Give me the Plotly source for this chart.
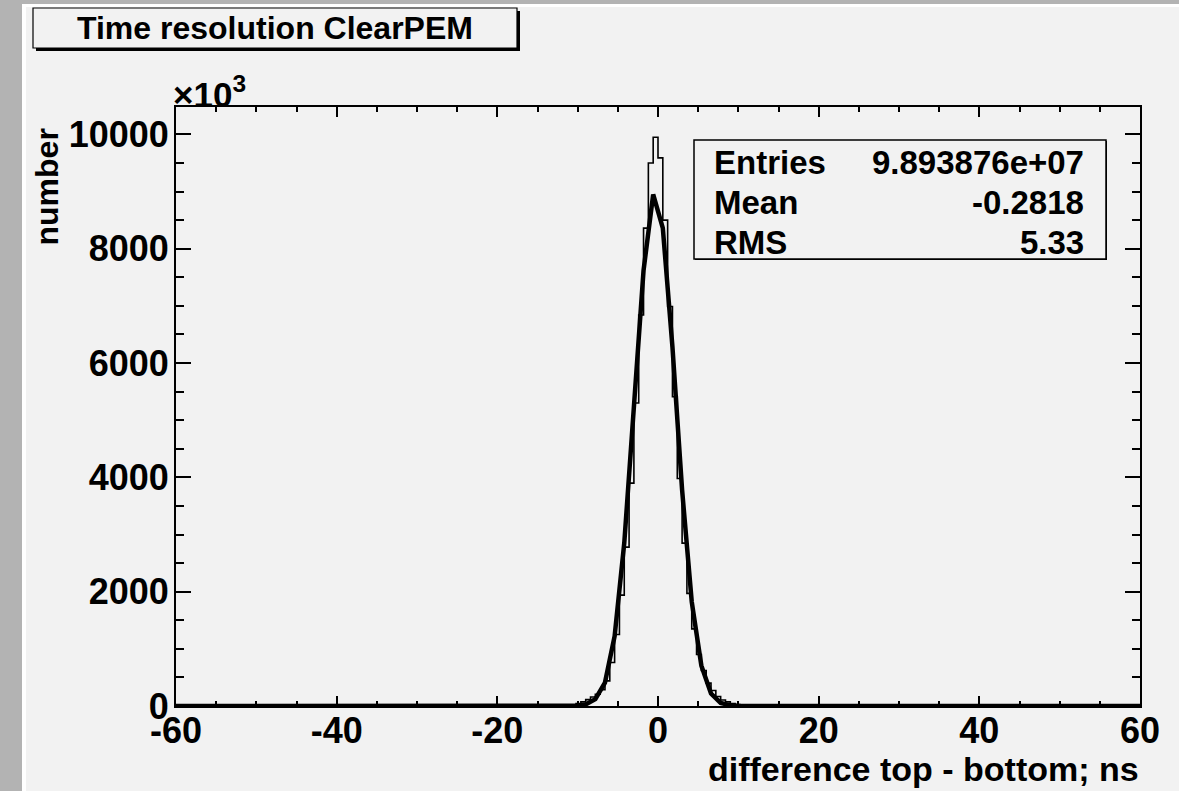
import plotly.graph_objects as go

# ---------------- data (y in units of 10^3) ----------------
bin_low = -12.0          # left edge of the first listed bin
bin_width = 0.6          # 200 bins over [-60, 60]
hist_counts = [5, 10, 22, 42, 72, 112, 158, 205, 285, 440,
               760, 1250, 1940, 2780, 3900, 5300, 6840, 8360, 9500, 9950,
               9590, 8500, 6990, 5410, 3980, 2850, 1970, 1350, 900, 620,
               400, 270, 165, 105, 72, 45, 25, 12, 6, 3]

fit_x = [-60, -10.2, -9.0, -7.8, -6.6, -5.4, -4.2, -3.0, -1.8, -0.6,
         0.6, 1.8, 3.0, 4.2, 5.4, 6.6, 7.8, 9.0, 10.2, 60]
fit_y = [0, 5, 28, 120, 410, 1220, 2850, 5200, 7620, 8950,
         8360, 6280, 3780, 1824, 705, 218, 54, 11, 2, 0]

x_range = [-60, 60]
y_max = 10480
x_ticks = [-60, -40, -20, 0, 20, 40, 60]
x_tick_labels = ["-60", "-40", "-20", "0", "20", "40", "60"]
y_ticks = [0, 2000, 4000, 6000, 8000, 10000]
y_tick_labels = ["0", "2000", "4000", "6000", "8000", "10000"]

title_text = "Time resolution ClearPEM"
x_title = "difference top - bottom; ns"
y_title = "number"
stat_names = ["Entries", "Mean", "RMS"]
stat_values = ["9.893876e+07", "-0.2818", "5.33"]

# ---------------- figure geometry ----------------
W, H = 1179, 791
L, R, T, B = 176, 1140, 107, 706   # plot area in pixels


def px(x):
    return (x - L) / (R - L)


def py(y):
    return (B - y) / (B - T)


FONT = "Liberation Sans"
BG = "#f2f2f2"

# histogram step line
hx = [x_range[0]]
hy = [0]
for i, c in enumerate(hist_counts):
    hx.append(bin_low + i * bin_width)
    hy.append(c)
hx.append(bin_low + len(hist_counts) * bin_width)
hy.append(0)
hx.append(x_range[1])
hy.append(0)

fig = go.Figure()
fig.add_trace(go.Scatter(x=hx, y=hy, mode="lines", line=dict(color="black", width=1.6, shape="hv"),
                         hoverinfo="skip", showlegend=False))
fig.add_trace(go.Scatter(x=fit_x, y=fit_y, mode="lines", line=dict(color="black", width=4.5),
                         hoverinfo="skip", showlegend=False))

axis_common = dict(showline=True, linecolor="black", linewidth=2, mirror="ticks",
                   ticks="inside", tickcolor="black", tickwidth=1.5,
                   showgrid=False, zeroline=False, automargin=False,
                   tickfont=dict(family=FONT, size=36, color="black", weight="bold"))

fig.update_xaxes(range=x_range, tickvals=x_ticks, ticktext=x_tick_labels, ticklen=10, ticklabelstandoff=-8,
                 minor=dict(ticks="inside", dtick=5, tick0=0, ticklen=5, tickcolor="black", tickwidth=1.5),
                 **axis_common)
fig.update_yaxes(range=[0, y_max], tickvals=y_ticks, ticktext=y_tick_labels, ticklen=15, ticklabelstandoff=-2,
                 minor=dict(ticks="inside", dtick=500, tick0=0, ticklen=8, tickcolor="black", tickwidth=1.5),
                 **axis_common)

shapes = []
# canvas frame
shapes.append(dict(type="rect", xref="paper", yref="paper", x0=px(0), x1=px(22), y0=py(H), y1=py(0),
                   fillcolor="#b3b3b3", line=dict(width=0), layer="below"))
shapes.append(dict(type="rect", xref="paper", yref="paper", x0=px(0), x1=px(W), y0=py(4), y1=py(0),
                   fillcolor="#b3b3b3", line=dict(width=0), layer="below"))
shapes.append(dict(type="rect", xref="paper", yref="paper", x0=px(22), x1=px(26), y0=py(H), y1=py(4),
                   fillcolor="white", line=dict(width=0), layer="below"))
shapes.append(dict(type="rect", xref="paper", yref="paper", x0=px(22), x1=px(W), y0=py(7), y1=py(4),
                   fillcolor="white", line=dict(width=0), layer="below"))
# title box with shadow
shapes.append(dict(type="rect", xref="paper", yref="paper", x0=px(36), x1=px(520), y0=py(51), y1=py(11),
                   fillcolor="black", line=dict(width=0)))
shapes.append(dict(type="rect", xref="paper", yref="paper", x0=px(33), x1=px(517), y0=py(48), y1=py(8),
                   fillcolor=BG, line=dict(color="black", width=1.2)))
# stats box
shapes.append(dict(type="rect", xref="paper", yref="paper", x0=px(695), x1=px(1107), y0=py(260), y1=py(141),
                   fillcolor="black", line=dict(width=0)))
shapes.append(dict(type="rect", xref="paper", yref="paper", x0=px(694), x1=px(1106), y0=py(259), y1=py(140),
                   fillcolor=BG, line=dict(color="black", width=1.5)))

ann = []
ann.append(dict(text=title_text, xref="paper", yref="paper", x=px(275), y=py(28), xanchor="center",
                yanchor="middle", showarrow=False, font=dict(family=FONT, size=32, color="black", weight="bold")))
ann.append(dict(text="\u00d710<sup>3</sup>", xref="paper", yref="paper", x=px(171), y=py(116), xanchor="left",
                yanchor="bottom", showarrow=False, font=dict(family=FONT, size=35, color="black", weight="bold")))
ann.append(dict(text=x_title, xref="paper", yref="paper", x=px(1141), y=py(769), xanchor="right",
                yanchor="middle", showarrow=False, font=dict(family=FONT, size=34, color="black", weight="bold")))
ann.append(dict(text=y_title, xref="paper", yref="paper", x=px(46), y=py(127), xanchor="center",
                yanchor="top", textangle=-90, showarrow=False,
                font=dict(family=FONT, size=32, color="black", weight="bold")))
row_y = [163, 202, 242]
for name, val, yy in zip(stat_names, stat_values, row_y):
    ann.append(dict(text=name, xref="paper", yref="paper", x=px(712), y=py(yy), xanchor="left",
                    yanchor="middle", showarrow=False, font=dict(family=FONT, size=33, color="black", weight="bold")))
    ann.append(dict(text=val, xref="paper", yref="paper", x=px(1086), y=py(yy), xanchor="right",
                    yanchor="middle", showarrow=False, font=dict(family=FONT, size=33, color="black", weight="bold")))

fig.update_layout(width=W, height=H, margin=dict(l=L, r=W - R, t=T, b=H - B, pad=0),
                  paper_bgcolor=BG, plot_bgcolor=BG, shapes=shapes, annotations=ann,
                  showlegend=False)

fig.write_html("out.html", config={"displayModeBar": False},
               post_script="document.body.style.margin='0';document.body.style.padding='0';"
                           "document.body.style.overflow='hidden';")
